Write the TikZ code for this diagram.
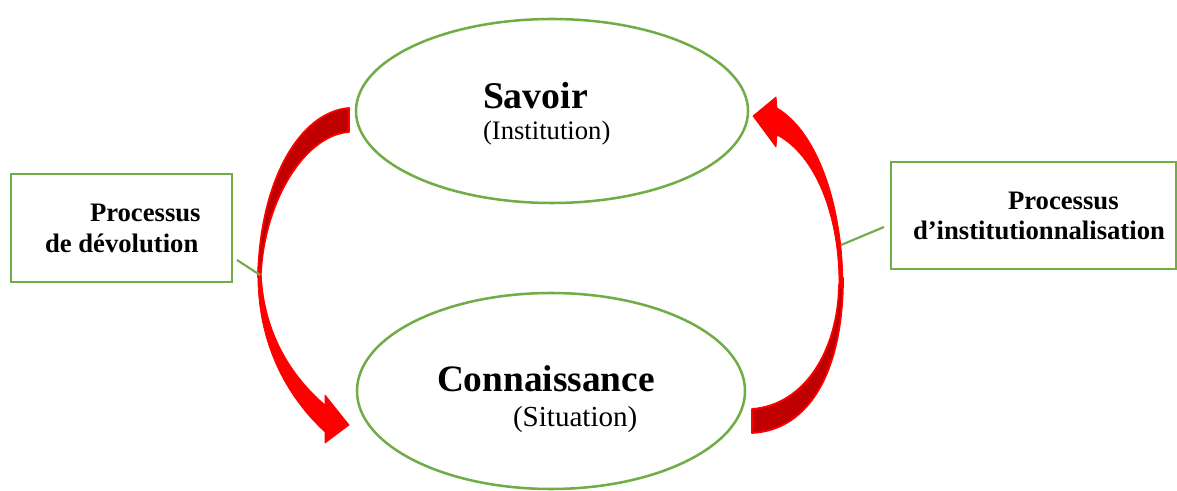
\documentclass[tikz,border=0pt]{standalone}
\usepackage{fontspec}
\setmainfont{Liberation Serif}
\usetikzlibrary{shapes.geometric}
\definecolor{ogreen}{HTML}{70AD47}
\definecolor{dred}{HTML}{C00000}
\tikzset{
  oval/.style={ellipse, draw=ogreen, line width=1.9pt, inner sep=0pt, outer sep=0pt},
  procbox/.style={rectangle, draw=ogreen, line width=2pt, inner sep=0pt, outer sep=0pt, anchor=north west},
  txt/.style={inner sep=0pt, outer sep=0pt, anchor=base west},
  bigtxt/.style={txt, font=\fontsize{28.3}{32}\selectfont\bfseries},
  subtxt/.style={txt, font=\fontsize{20}{24}\selectfont},
  boxtxt/.style={txt, font=\fontsize{20}{24}\selectfont\bfseries},
  link/.style={draw=ogreen, line width=1.6pt},
  backface/.style={fill=dred, draw=red, line width=1.3pt, line join=round},
  frontface/.style={fill=red, draw=red, line width=0.6pt, line join=round}
}
\begin{document}
\begin{tikzpicture}[x=0.75pt,y=-0.75pt]
\useasboundingbox (0,0) rectangle (1177,491);
% ellipses
\node[oval, minimum width={392*0.75pt}, minimum height={184*0.75pt}] (savoir) at (552,111) {};
\node[oval, minimum width={388*0.75pt}, minimum height={196*0.75pt}] (conn) at (551,391) {};
% boxes
\node[procbox, minimum width={221*0.75pt}, minimum height={108*0.75pt}] (boxdev) at (11,174) {};
\node[procbox, minimum width={285*0.75pt}, minimum height={107*0.75pt}] (boxinst) at (891,162) {};
% texts
\node[bigtxt] (tsav) at (483,109) {Savoir};
\node[subtxt] (tinst) at (483,140) {(Institution)};
\node[bigtxt, font=\fontsize{28}{32}\selectfont\bfseries] (tconn) at (437,391) {Connaissance};
\node[subtxt, font=\fontsize{21.8}{24}\selectfont] (tsit) at (513,426) {(Situation)};
\node[boxtxt] (tp1) at (90,222) {Processus};
\node[boxtxt] (tdev) at (45,253) {de dévolution};
\node[boxtxt] (tp2) at (1008,210) {Processus};
\node[boxtxt] (tinsti) at (913,240) {d’institutionnalisation};
% left curved arrow (devolution)
\path[backface] (349,108) .. controls (300,112) and (260,180) .. (258,277)
   -- (261,272) .. controls (265,200) and (305,135) .. (349,132) -- cycle;
\path[frontface] (258,268) .. controls (256,340) and (285,395) .. (325,432)
   -- (325,443) -- (349,425) -- (325,395) -- (325,405)
   .. controls (290,375) and (262,330) .. (261,268) -- cycle;
% right curved arrow (institutionnalisation)
\path[backface] (752,433) .. controls (810,430) and (843,370) .. (843,278)
   -- (839,285) .. controls (838,350) and (805,405) .. (752,409) -- cycle;
\path[frontface] (843,288) .. controls (843,200) and (815,130) .. (777,108)
   -- (776,97) -- (753,116) -- (776,147) -- (777,135)
   .. controls (815,155) and (840,215) .. (839,288) -- cycle;
% connectors
\coordinate (la) at (237,260);
\coordinate (lb) at (260,275);
\coordinate (ra) at (884,227);
\coordinate (rb) at (841,245);
\draw[link] (la) -- (lb);
\draw[link] (ra) -- (rb);
\end{tikzpicture}
\end{document}
